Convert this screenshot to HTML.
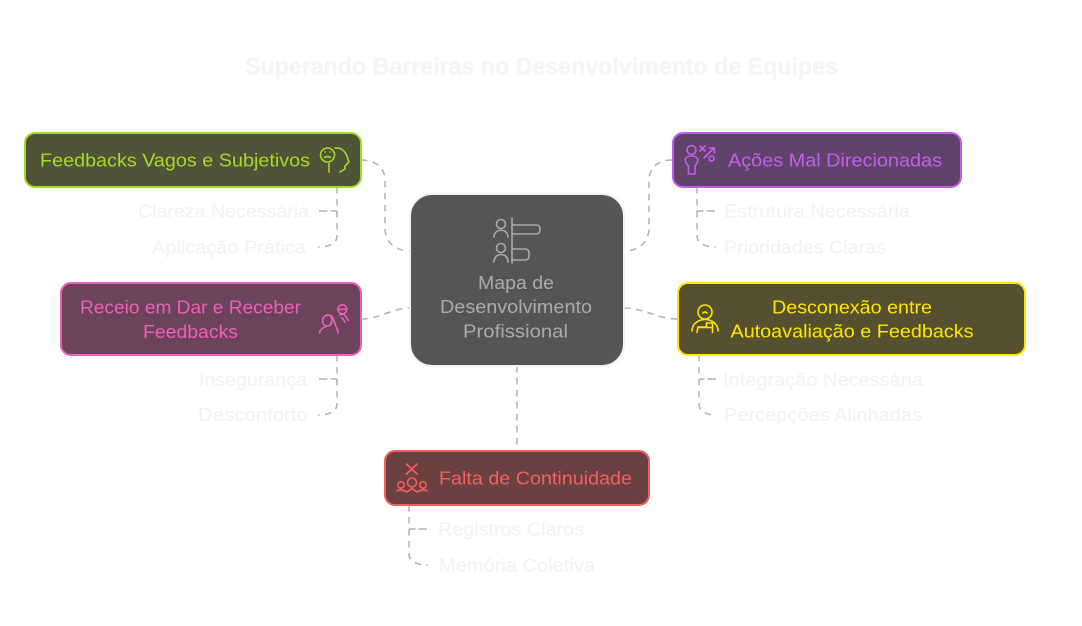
<!DOCTYPE html>
<html>
<head>
<meta charset="utf-8">
<style>
html,body{margin:0;padding:0;background:#fff;width:1082px;height:626px;overflow:hidden}
svg{display:block}
text{font-family:"Liberation Sans",sans-serif;font-size:18px}
.sub{fill:#f3f3f4;stroke:#f3f3f4;stroke-width:.25}
.c{fill:none;stroke:#b2b2b2;stroke-width:1.5;stroke-dasharray:6.5 5.5}
.b{fill:none;stroke:#b2b2b2;stroke-width:1.5;stroke-dasharray:8.500 3}
.ic{fill:none;stroke-width:1.6;stroke-linecap:round;stroke-linejoin:round}
</style>
</head>
<body>
<svg width="1082" height="626" viewBox="0 0 1082 626" xmlns="http://www.w3.org/2000/svg">
<rect width="1082" height="626" fill="#fff"/>
<text x="245" y="74.5" textLength="593" lengthAdjust="spacingAndGlyphs" style="font-size:24px;font-weight:bold" fill="#f5f5f5" stroke="#f5f5f5" stroke-width=".5">Superando Barreiras no Desenvolvimento de Equipes</text>

<!-- connectors -->
<path class="c" d="M361 160C376 160 385 168 385 180V228C385 242 395 251 410 251"/>
<path class="c" d="M337 187V236C337 243 330 247 318 247"/>
<path class="b" d="M319 211H337"/>
<path class="c" d="M672 160C658 160 649 168 649 180V228C649 242 639 251 624 251"/>
<path class="c" d="M697 187V236C697 243 704 247 716 247"/>
<path class="b" d="M715 211H697"/>
<path class="c" d="M361 319C380 319 392 308 410 308"/>
<path class="c" d="M337 355V404C337 411 330 415 318 415"/>
<path class="b" d="M319 379H337"/>
<path class="c" d="M624 308C645 308 656 319 678 319"/>
<path class="c" d="M699 355V404C699 411 706 415 716 415"/>
<path class="b" d="M716 379H699"/>
<path class="c" d="M517 366V451"/>
<path class="c" d="M409 505V554C409 561 416 565 428 565"/>
<path class="b" d="M427 529H409"/>

<!-- center -->
<rect x="410" y="194" width="214" height="172" rx="22" fill="#555" stroke="#f2f2f2" stroke-width="2"/>
<g class="ic" stroke="#aaa">
<circle cx="501" cy="224" r="4.500"/><path d="M494 237C494 228 508 228 508 237"/>
<circle cx="501" cy="248" r="4.500"/><path d="M494 262C494 252 508 252 508 262"/>
<path d="M512 218V263M512 225H536Q540 225 540 229V230Q540 234 536 234H512M512 249H525Q529 249 529 253V256Q529 260 525 260H512"/>
</g>
<text x="478" y="289" textLength="76" lengthAdjust="spacingAndGlyphs" fill="#aaa">Mapa de</text>
<text x="440" y="313" textLength="152" lengthAdjust="spacingAndGlyphs" fill="#aaa">Desenvolvimento</text>
<text x="463" y="337.5" textLength="105" lengthAdjust="spacingAndGlyphs" fill="#aaa">Profissional</text>

<!-- green -->
<rect x="25" y="133" width="336" height="54" rx="10" fill="#4f5438" stroke="#a3d92b" stroke-width="2"/>
<text x="40" y="166.7" textLength="270" lengthAdjust="spacingAndGlyphs" fill="#a3d92b">Feedbacks Vagos e Subjetivos</text>
<g class="ic" stroke="#a3d92b">
<circle cx="327.5" cy="155" r="7"/><path d="M324.500 157.500Q327.500 155.500 330.500 157.500M325 152h.1M330 152h.1"/>
<path d="M329 172V163.500M335 148C343 147 347 154 348 160L349 162L345 166V169L340 172"/>
</g>
<text class="sub" x="138" y="217.7" textLength="171" lengthAdjust="spacingAndGlyphs">Clareza Necessária</text>
<text class="sub" x="152" y="253.7" textLength="154" lengthAdjust="spacingAndGlyphs">Aplicação Prática</text>

<!-- purple -->
<rect x="673" y="133" width="288" height="54" rx="10" fill="#5f436b" stroke="#c45ee8" stroke-width="2"/>
<text x="728" y="166.7" textLength="214" lengthAdjust="spacingAndGlyphs" fill="#c45ee8">Ações Mal Direcionadas</text>
<g class="ic" stroke="#c45ee8">
<circle cx="691.5" cy="150" r="4.500"/>
<path d="M688.500 174V166C683 160 685 156 691.500 156C698 156 700 160 695 166V174Z"/>
<path d="M700 146L705 151M705 146L700 151M704 158L714 148M709.500 148H714.500V153"/>
<circle cx="711.5" cy="158.5" r="2.500"/>
</g>
<text class="sub" x="724" y="217.7" textLength="186" lengthAdjust="spacingAndGlyphs">Estrutura Necessária</text>
<text class="sub" x="724" y="253.7" textLength="162" lengthAdjust="spacingAndGlyphs">Prioridades Claras</text>

<!-- pink -->
<rect x="61" y="283" width="300" height="72" rx="10" fill="#6b435b" stroke="#ee5fb7" stroke-width="2"/>
<text x="80" y="313.3" textLength="221" lengthAdjust="spacingAndGlyphs" fill="#ee5fb7">Receio em Dar e Receber</text>
<text x="143" y="338" textLength="95" lengthAdjust="spacingAndGlyphs" fill="#ee5fb7">Feedbacks</text>
<g class="ic" stroke="#ee5fb7">
<path d="M319.500 333C320 329 324 327 328 326M338 333C338 328 335 326 334 321C333 315 328 314 325 316C321 319 322 326 327 326C331 326 333 322 331 317"/>
<circle cx="342.3" cy="309.3" r="4.500"/><path d="M338 309.300H347M340 315L344 314L348.500 320.500M342 318L345 322"/>
</g>
<text class="sub" x="199" y="386" textLength="108" lengthAdjust="spacingAndGlyphs">Insegurança</text>
<text class="sub" x="198" y="421" textLength="110" lengthAdjust="spacingAndGlyphs">Desconforto</text>

<!-- yellow -->
<rect x="678" y="283" width="347" height="72" rx="10" fill="#55502f" stroke="#ffe500" stroke-width="2"/>
<text x="772" y="313.5" textLength="160" lengthAdjust="spacingAndGlyphs" fill="#ffe500">Desconexão entre</text>
<text x="730.5" y="337.5" textLength="243" lengthAdjust="spacingAndGlyphs" fill="#ffe500">Autoavaliação e Feedbacks</text>
<g class="ic" stroke="#ffe500">
<circle cx="705" cy="312" r="7"/><path d="M703 313Q705 311 707 313"/>
<path d="M692 331C692 324 698 319.500 705 319.500C712 319.500 718 324 718 331"/>
<path d="M697 332.500L698 327H706.500V323H712.500V332.500M698 327.500H712"/>
</g>
<text class="sub" x="723" y="386" textLength="200" lengthAdjust="spacingAndGlyphs">Integração Necessária</text>
<text class="sub" x="724" y="421" textLength="198" lengthAdjust="spacingAndGlyphs">Percepções Alinhadas</text>

<!-- red -->
<rect x="385" y="451" width="264" height="54" rx="10" fill="#6b4040" stroke="#f55f5c" stroke-width="2"/>
<text x="439" y="484.3" textLength="193" lengthAdjust="spacingAndGlyphs" fill="#f55f5c">Falta de Continuidade</text>
<g class="ic" stroke="#f55f5c">
<path d="M406.500 464L417 474M417 464L406.500 474"/>
<circle cx="412" cy="482.5" r="4.500"/><circle cx="401" cy="485" r="3.200"/><circle cx="423" cy="485" r="3.200"/>
<path d="M397 491L401 489.500L407 492L412 488.500L417 492L423 489.500L427 491"/>
</g>
<text class="sub" x="438" y="535.5" textLength="146" lengthAdjust="spacingAndGlyphs">Registros Claros</text>
<text class="sub" x="439" y="571.5" textLength="156" lengthAdjust="spacingAndGlyphs">Memória Coletiva</text>
</svg>
</body>
</html>
